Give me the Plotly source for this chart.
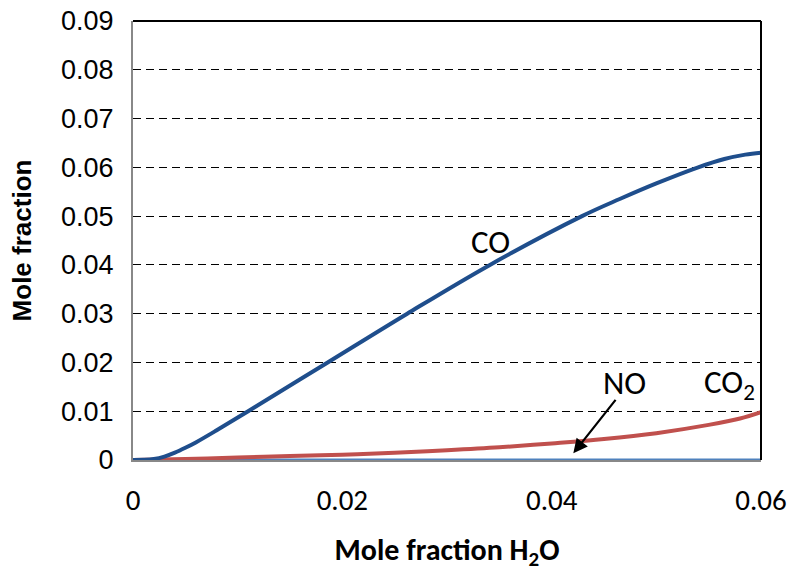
import plotly.graph_objects as go

# --- data ---
co_x = [0, 0.001, 0.002, 0.003, 0.004, 0.005, 0.006, 0.008, 0.011, 0.0186, 0.0262, 0.0341, 0.0429, 0.0465, 0.050, 0.054, 0.0565, 0.0585, 0.06]
co_y = [0, 0.00003, 0.0002, 0.0007, 0.0015, 0.0025, 0.0036, 0.0061, 0.0100, 0.0200, 0.0300, 0.0400, 0.0500, 0.0535, 0.0567, 0.0600, 0.0617, 0.0626, 0.0630]

co2_x = [0, 0.005, 0.01, 0.015, 0.02, 0.025, 0.03, 0.035, 0.04, 0.045, 0.05, 0.055, 0.058, 0.06]
co2_y = [0, 0.0002, 0.0005, 0.0008, 0.0011, 0.0015, 0.0020, 0.0026, 0.0034, 0.0043, 0.0055, 0.0072, 0.0085, 0.0098]

no_x = [0, 0.01, 0.02, 0.03, 0.04, 0.05, 0.06]
no_y = [0, 0, 0, 0, 0, 0, 0]

y_ticks = [0, 0.01, 0.02, 0.03, 0.04, 0.05, 0.06, 0.07, 0.08, 0.09]
y_ticktext = ["0", "0.01", "0.02", "0.03", "0.04", "0.05", "0.06", "0.07", "0.08", "0.09"]
x_ticks = [0, 0.02, 0.04, 0.06]
x_ticktext = ["0", "0.02", "0.04", "0.06"]

fig = go.Figure()
fig.add_trace(go.Scatter(x=no_x, y=no_y, mode="lines", line=dict(color="#4F81BD", width=3), name="NO", cliponaxis=False))
fig.add_trace(go.Scatter(x=co2_x, y=co2_y, mode="lines", line=dict(color="#C0504D", width=4, shape="spline"), name="CO2"))
fig.add_trace(go.Scatter(x=co_x, y=co_y, mode="lines", line=dict(color="#1F4E8C", width=4, shape="spline"), name="CO"))

calib = "Carlito, Lato, sans-serif"
arial = "Liberation Sans, Arial, sans-serif"

fig.update_layout(
    width=790, height=572,
    margin=dict(l=133, r=29, t=21, b=112),
    paper_bgcolor="white", plot_bgcolor="white",
    showlegend=False,
    font=dict(family=arial, size=20, color="black"),
    xaxis=dict(
        range=[0, 0.06], tickvals=x_ticks, ticktext=x_ticktext, automargin=False,
        showgrid=False, zeroline=False, showline=True, linecolor="#888888", linewidth=2,
        ticks="", tickfont=dict(family=calib, size=29, color="black"), ticklabelstandoff=13,
        title=dict(text="<b>Mole fraction H<sub>2</sub>O</b>", font=dict(family=calib, size=30, color="black"), standoff=30),
    ),
    yaxis=dict(
        range=[0, 0.09], tickvals=y_ticks, ticktext=y_ticktext, automargin=False,
        showgrid=True, gridcolor="black", gridwidth=1.3, griddash="8px,5px",
        zeroline=False, showline=True, linecolor="#888888", linewidth=2,
        ticks="", tickfont=dict(family=arial, size=27, color="black"), ticklabelstandoff=12,
        title=dict(text="<b>Mole fraction</b>", font=dict(family=arial, size=26, color="black"), standoff=22),
    ),
    shapes=[
        dict(type="line", xref="paper", yref="paper", x0=0, x1=1, y0=1, y1=1, line=dict(color="black", width=2)),
        dict(type="line", xref="paper", yref="paper", x0=1, x1=1, y0=0, y1=1, line=dict(color="black", width=2)),
    ],
    annotations=[
        dict(x=0.0342, y=0.0447, text="CO", showarrow=False, font=dict(family=calib, size=33, color="black")),
        dict(x=0.0470, y=0.0158, text="NO", showarrow=False, font=dict(family=calib, size=33, color="black")),
        dict(x=0.0570, y=0.0156, text="CO<sub>2</sub>", showarrow=False, font=dict(family=calib, size=33, color="black")),
        dict(x=0.04207, y=0.00137, ax=0.04622, ay=0.01264, axref="x", ayref="y", xref="x", yref="y",
             text="", showarrow=True, arrowhead=2, arrowsize=1.3, arrowwidth=2.2, arrowcolor="black"),
    ],
)

fig.write_html("out.html")
